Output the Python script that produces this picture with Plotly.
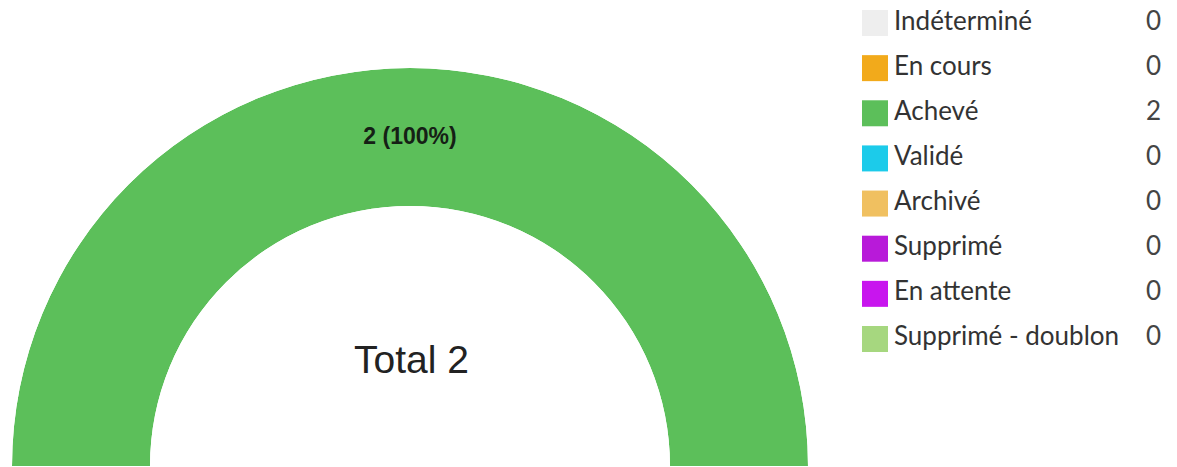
import plotly.graph_objects as go

W, H = 1177, 467

categories = ["Indéterminé", "En cours", "Achevé", "Validé", "Archivé",
              "Supprimé", "En attente", "Supprimé - doublon"]
values = [0, 0, 2, 0, 0, 0, 0, 0]
colors = ["#eeeeee", "#f2aa1b", "#5cbf5a", "#1ccbea", "#f0c060",
          "#b81ad9", "#c815ee", "#a6d77f"]
total_label = "Total 2"

total = sum(values)

fig = go.Figure()

# Half-donut built from barpolar wedges (angular extent = share of total)
cum = 0.0
for name, v, c in zip(categories, values, colors):
    span = v / total * 180.0
    fig.add_trace(go.Barpolar(
        r=[1], theta=[cum + span / 2], width=[span], base=[0],
        marker=dict(color=c, line=dict(width=0)),
        name=name, showlegend=False, hoverinfo="skip",
        subplot="polar"))
    cum += span

# Slice labels
cum = 0.0
lab_theta, lab_text = [], []
for v in values:
    span = v / total * 180.0
    if v > 0:
        lab_theta.append(cum + span / 2)
        lab_text.append(f"{v} ({v / total * 100:.0f}%)")
    cum += span
fig.add_trace(go.Scatterpolar(
    r=[0.49] * len(lab_theta), theta=lab_theta, text=lab_text, mode="text",
    textfont=dict(family="Liberation Sans, Arial", size=23, color="#152015",
                  weight="bold"),
    showlegend=False, hoverinfo="skip", subplot="polar"))

# Custom legend (swatch, name, value)
fig.add_trace(go.Scatter(
    x=[875] * len(categories), y=categories, mode="markers",
    marker=dict(symbol="square", size=26, color=colors, line=dict(width=0)),
    showlegend=False, hoverinfo="skip"))
fig.add_trace(go.Scatter(
    x=[894] * len(categories), y=categories, mode="text", text=categories,
    textposition="middle right",
    textfont=dict(family="Lato", size=26, color="#333333"),
    showlegend=False, hoverinfo="skip"))
fig.add_trace(go.Scatter(
    x=[1146] * len(categories), y=categories, mode="text",
    text=[str(v) for v in values], textposition="middle right",
    textfont=dict(family="Lato", size=26, color="#444444"),
    showlegend=False, hoverinfo="skip"))

fig.update_layout(
    width=W, height=H,
    margin=dict(l=0, r=0, t=0, b=0),
    paper_bgcolor="white", plot_bgcolor="rgba(0,0,0,0)",
    polar=dict(
        domain=dict(x=[12 / W, 808 / W], y=[1 / H, 399 / H]),
        sector=[0, 180], hole=260 / 398,
        bgcolor="rgba(0,0,0,0)",
        angularaxis=dict(visible=False, rotation=180, direction="clockwise",
                         showgrid=False, showline=False, ticks=""),
        radialaxis=dict(visible=False, range=[0, 1], showgrid=False,
                        showline=False, ticks=""),
        bargap=0,
    ),
    xaxis=dict(domain=[0, 1], range=[0, W], visible=False, fixedrange=True),
    yaxis=dict(domain=[0, 1], type="category", categoryorder="array",
               categoryarray=categories,
               range=[(H - 23) / 45.14, -23 / 45.14], visible=False,
               fixedrange=True),
    annotations=[dict(text=total_label, x=411 / W, y=1 - 359 / H,
                      xref="paper", yref="paper", xanchor="center",
                      yanchor="middle", showarrow=False,
                      font=dict(family="Liberation Sans, Arial", size=39,
                                color="#222222"))],
    showlegend=False,
)

fig.write_html("out.html")
